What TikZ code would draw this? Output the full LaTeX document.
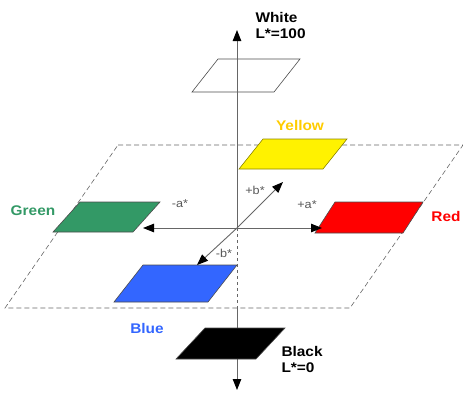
\documentclass[tikz,border=0pt]{standalone}
\usepackage{fontspec}
\setmainfont{Liberation Sans}
\newfontfamily\widefont[FakeStretch=1.1]{Liberation Sans}
\usetikzlibrary{arrows.meta}
\definecolor{labyellow}{HTML}{FFCC00}
\definecolor{labgreen}{HTML}{339966}
\definecolor{labblue}{HTML}{3366FF}
\definecolor{labred}{HTML}{FF0000}

\begin{document}
\begin{tikzpicture}[x=1pt, y=-1pt,
    plate/.style={draw=black!70, line width=0.6pt},
    axis/.style={draw=black!60, line width=0.9pt},
    tip/.style={-{Triangle[length=11pt,width=8.5pt,color=black]}},
    colname/.style={font=\widefont\fontsize{14}{16}\selectfont\bfseries},
    axname/.style={font=\widefont\fontsize{11.5}{13}\selectfont, text=black!65}]
    \useasboundingbox (0,0) rectangle (463,394);

    % a*b* plane
    \draw[dashed, dash pattern=on 5pt off 3pt, black!60, line width=0.6pt]
        (118,145) -- (463,145) -- (350,308) -- (5,308) -- cycle;

    % Colour plates
    \draw[plate] (218,59) -- ++(82,0) -- ++(-26,33) -- ++(-82,0) -- cycle;
    \draw[plate, fill=yellow, draw=olive] (263,139) -- ++(84,0) -- ++(-24,30) -- ++(-84,0) -- cycle;
    \draw[plate, fill=labgreen] (80,202) -- ++(80,0) -- ++(-27,30) -- ++(-80,0) -- cycle;
    \draw[plate, fill=labred] (335,202) -- ++(88,0) -- ++(-20,31) -- ++(-88,0) -- cycle;
    \draw[plate, fill=labblue] (143,265) -- ++(94,0) -- ++(-29,37) -- ++(-94,0) -- cycle;

    % Axes
    \coordinate (O) at (237,228);
    \coordinate (Ltop) at (237,30);
    \coordinate (Lmid) at (237,308);
    \coordinate (Lbot) at (237,390);
    \coordinate (aneg) at (143,228);
    \coordinate (apos) at (322,228);
    \coordinate (bpos) at (283,182);
    \coordinate (bneg) at (197,265);

    \draw[axis, tip] (O) -- (Ltop);
    \draw[axis, dashed] (O) -- (Lmid);
    \draw[axis, tip] (Lmid) -- (Lbot);
    \draw[axis, tip] (O) -- (aneg);
    \draw[axis, tip] (O) -- (apos);
    \draw[axis, tip] (O) -- (bpos);
    \draw[axis, tip] (O) -- (bneg);

    % Black plate over the L* axis
    \draw[plate, fill=black] (205,328) -- ++(80,0) -- ++(-29,31) -- ++(-80,0) -- cycle;

    % Labels
    \node[colname, align=left, anchor=west] (white) at (252,25) {White\\L*=100};
    \node[colname, text=labyellow] (yellow) at (300,125) {Yellow};
    \node[colname, text=labgreen] (green) at (33,211) {Green};
    \node[colname, text=labred] (red) at (446,216) {Red};
    \node[colname, text=labblue] (blue) at (147,328) {Blue};
    \node[colname, align=left, anchor=west] (black) at (278,359) {Black\\L*=0};

    \node[axname] (amin) at (180,204) {-a*};
    \node[axname] (aplus) at (307,205) {+a*};
    \node[axname] (bplus) at (255,190) {+b*};
    \node[axname] (bmin) at (224,253) {-b*};
\end{tikzpicture}
\end{document}
